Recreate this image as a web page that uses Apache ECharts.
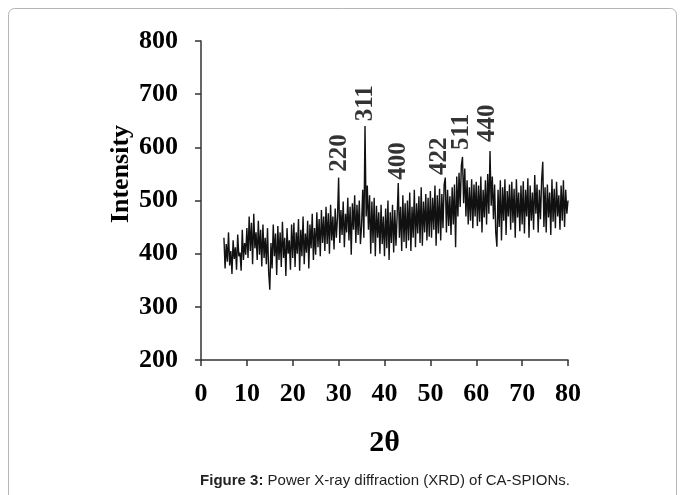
<!DOCTYPE html>
<html>
<head>
<meta charset="utf-8">
<script src="https://cdn.jsdelivr.net/npm/echarts@6/dist/echarts.min.js"></script>
<style>
  html, body { margin: 0; padding: 0; background: #fff; }
  #chart { width: 683px; height: 495px; }
</style>
</head>
<body>
<div id="chart"></div>
<script>
// XRD scan, 2θ from 5 to 80 in 0.25 steps
const twoThetaStart = 5;
const twoThetaStep = 0.25;
const intensity = [
  430,372,418,385,440,378,405,362,425,390,412,370,436,395,402,368,445,388,420,398,
  448,392,470,405,458,380,475,410,440,388,462,398,445,376,455,392,430,380,448,365,
  332,420,372,455,395,438,360,452,388,440,375,460,392,430,358,448,400,425,370,455,
  392,458,375,440,400,465,368,445,395,470,380,438,402,462,372,455,410,475,388,448,
  398,478,412,465,395,482,420,470,405,488,418,476,400,492,425,470,408,485,430,468,
  543,420,482,435,498,412,475,440,505,425,488,398,495,445,510,420,492,435,500,418,
  452,520,430,640,470,528,445,510,400,498,420,505,395,490,430,478,400,492,418,470,
  395,485,410,500,388,478,420,492,402,482,415,470,533,430,488,405,510,422,495,410,
  500,425,515,405,488,430,520,412,495,438,508,420,525,415,498,440,512,425,505,432,
  518,430,505,445,528,415,510,438,522,425,512,448,530,543,440,520,452,508,435,525,
  455,530,412,545,470,552,488,565,582,495,560,470,538,455,525,462,540,448,530,470,
  535,452,528,460,545,440,520,468,538,455,550,475,593,490,545,465,530,440,413,520,
  450,538,425,525,462,540,435,518,470,530,445,535,458,522,430,540,468,515,442,528,
  455,536,438,520,470,542,430,528,462,515,445,548,475,530,440,520,465,538,573,450,
  525,440,530,468,515,435,540,460,522,448,535,470,510,445,528,462,538,450,520,475,500
];

// peak labels (hkl) and where they sit
const peakNames = ['220', '311', '400', '422', '511', '440'];
const peakX = [30.2, 35.9, 43.1, 52.1, 56.9, 62.5];
const peakY = [554, 649, 539, 548, 595, 610];

const xTicks = [0, 80, 10];   // min, max, step
const yTicks = [200, 800, 100];

const scan = intensity.map((v, i) => [twoThetaStart + i * twoThetaStep, v]);
const peaks = peakNames.map((n, i) => [peakX[i], peakY[i], n]);

const serif = 'Liberation Serif';
const chart = echarts.init(document.getElementById('chart'));

chart.setOption({
  animation: false,
  backgroundColor: '#fff',
  grid: { left: 201, right: 115, top: 41, bottom: 135 },
  xAxis: {
    type: 'value',
    min: xTicks[0], max: xTicks[1], interval: xTicks[2],
    splitLine: { show: false },
    axisLine: { lineStyle: { color: '#333', width: 1.5 } },
    axisTick: { show: true, length: 6, lineStyle: { color: '#333', width: 1.5 } },
    axisLabel: { color: '#000', fontFamily: serif, fontWeight: 'bold', fontSize: 26, margin: 21 },
    name: '2θ',
    nameLocation: 'middle',
    nameGap: 68,
    nameTextStyle: { color: '#000', fontFamily: serif, fontWeight: 'bold', fontSize: 30 }
  },
  yAxis: {
    type: 'value',
    min: yTicks[0], max: yTicks[1], interval: yTicks[2],
    splitLine: { show: false },
    axisLine: { show: true, lineStyle: { color: '#333', width: 1.5 } },
    axisTick: { show: true, length: 6, lineStyle: { color: '#333', width: 1.5 } },
    axisLabel: { color: '#000', fontFamily: serif, fontWeight: 'bold', fontSize: 26, margin: 23 }
  },
  graphic: [
    {
      type: 'rect',
      shape: { x: 8.5, y: 8.5, width: 668, height: 520, r: 6 },
      style: { fill: 'none', stroke: '#b5b5b5', lineWidth: 1 },
      silent: true
    },
    {
      type: 'text',
      x: 121, y: 174,
      rotation: Math.PI / 2,
      style: {
        text: 'Intensity',
        font: 'bold 26px "Liberation Serif"',
        fill: '#000',
        align: 'center',
        verticalAlign: 'middle'
      }
    },
    {
      type: 'text',
      x: 385, y: 481,
      style: {
        text: '{b|Figure 3:} Power X-ray diffraction (XRD) of CA-SPIONs.',
        font: '15px "Liberation Sans"',
        fill: '#222',
        align: 'center',
        verticalAlign: 'middle',
        rich: { b: { fontWeight: 'bold', fontSize: 15, fontFamily: 'Liberation Sans', fill: '#222' } }
      }
    }
  ],
  series: [
    {
      type: 'line',
      data: scan,
      showSymbol: false,
      lineStyle: { color: '#111', width: 1.4 },
      z: 2
    },
    {
      type: 'scatter',
      data: peaks,
      symbolSize: 0,
      label: {
        show: true,
        formatter: p => p.data[2],
        position: 'inside',
        rotate: 90,
        align: 'left',
        verticalAlign: 'middle',
        color: '#000',
        fontFamily: serif,
        fontWeight: 'bold',
        fontSize: 25
      },
      z: 3
    }
  ]
});
</script>
</body>
</html>
